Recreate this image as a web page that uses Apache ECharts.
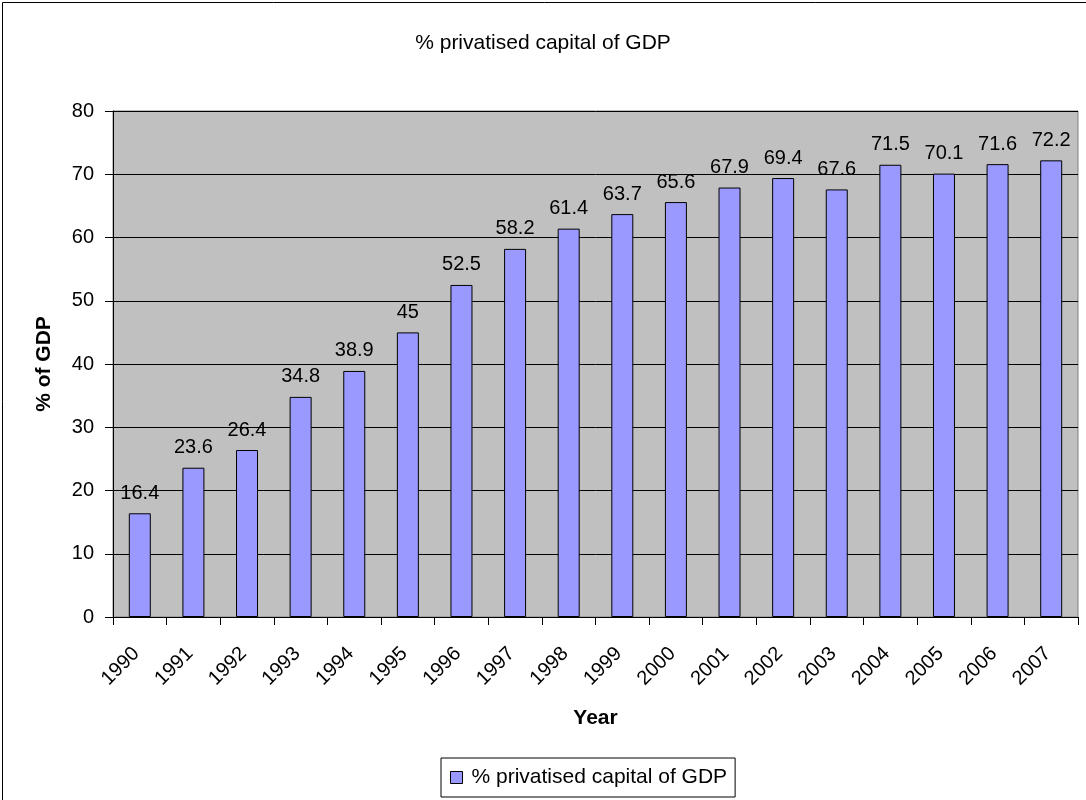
<!DOCTYPE html>
<html>
<head>
<meta charset="utf-8">
<script src="https://cdn.jsdelivr.net/npm/echarts@6/dist/echarts.min.js"></script>
<style>
  html, body { margin: 0; padding: 0; background: #fff; }
  #chart { width: 1086px; height: 800px; }
</style>
</head>
<body>
<div id="chart"></div>
<script>
// Years on the category axis
const years = ['1990','1991','1992','1993','1994','1995','1996','1997','1998',
               '1999','2000','2001','2002','2003','2004','2005','2006','2007'];
// Privatised capital as a share of GDP (%)
const privatisedShare = [16.4, 23.6, 26.4, 34.8, 38.9, 45, 52.5, 58.2, 61.4,
                         63.7, 65.6, 67.9, 69.4, 67.6, 71.5, 70.1, 71.6, 72.2];
const seriesName = '% privatised capital of GDP';

const chart = echarts.init(document.getElementById('chart'));
const font = 'Liberation Sans, Arial, sans-serif';

chart.setOption({
  animation: false,
  backgroundColor: '#ffffff',
  textStyle: { fontFamily: font },
  graphic: [{
    type: 'rect',
    left: 0, top: 0,
    shape: { width: 1085, height: 799 },
    style: { fill: 'none', stroke: '#000', lineWidth: 1 },
    silent: true
  }],
  title: {
    text: seriesName,
    left: 'center',
    top: 28,
    textStyle: { fontFamily: font, fontSize: 21, fontWeight: 'normal', color: '#000' }
  },
  legend: {
    bottom: 3,
    left: 441,
    data: [seriesName],
    icon: 'rect',
    itemWidth: 12,
    itemHeight: 12,
    borderColor: '#000',
    borderWidth: 1,
    padding: [9, 8, 9, 9],
    textStyle: { fontFamily: font, fontSize: 21, color: '#000', padding: [0, 0, 0, 4] },
    itemStyle: { borderColor: '#000', borderWidth: 1 }
  },
  grid: {
    left: 113,
    right: 8,
    top: 111,
    bottom: 183,
    show: true,
    backgroundColor: '#C0C0C0',
    borderColor: '#808080',
    borderWidth: 1,
    containLabel: false
  },
  xAxis: {
    type: 'category',
    data: years,
    name: 'Year',
    nameLocation: 'middle',
    nameGap: 91,
    nameTextStyle: { fontFamily: font, fontSize: 21, fontWeight: 'bold', color: '#000' },
    axisLine: { lineStyle: { color: '#000', width: 1 } },
    axisTick: { show: true, length: 8, lineStyle: { color: '#000' } },
    axisLabel: {
      rotate: 45, fontSize: 20, color: '#000', fontFamily: font,
      margin: 30, padding: [0, 5, 0, 0]
    }
  },
  yAxis: {
    type: 'value',
    min: 0,
    max: 80,
    interval: 10,
    name: '% of GDP',
    nameLocation: 'middle',
    nameGap: 58,
    nameTextStyle: { fontFamily: font, fontSize: 21, fontWeight: 'bold', color: '#000' },
    axisLine: { show: true, lineStyle: { color: '#000', width: 1 } },
    axisTick: { show: true, length: 8, lineStyle: { color: '#000' } },
    axisLabel: { fontSize: 20, color: '#000', fontFamily: font, margin: 19 },
    splitLine: { show: true, lineStyle: { color: '#000', width: 1 } }
  },
  series: [{
    name: seriesName,
    type: 'bar',
    data: privatisedShare,
    barWidth: 22,
    itemStyle: { color: '#9999FF', borderColor: '#000', borderWidth: 1 },
    label: {
      show: true,
      position: 'top',
      distance: 10,
      fontSize: 20,
      color: '#000',
      fontFamily: font
    }
  }]
});
</script>
</body>
</html>
